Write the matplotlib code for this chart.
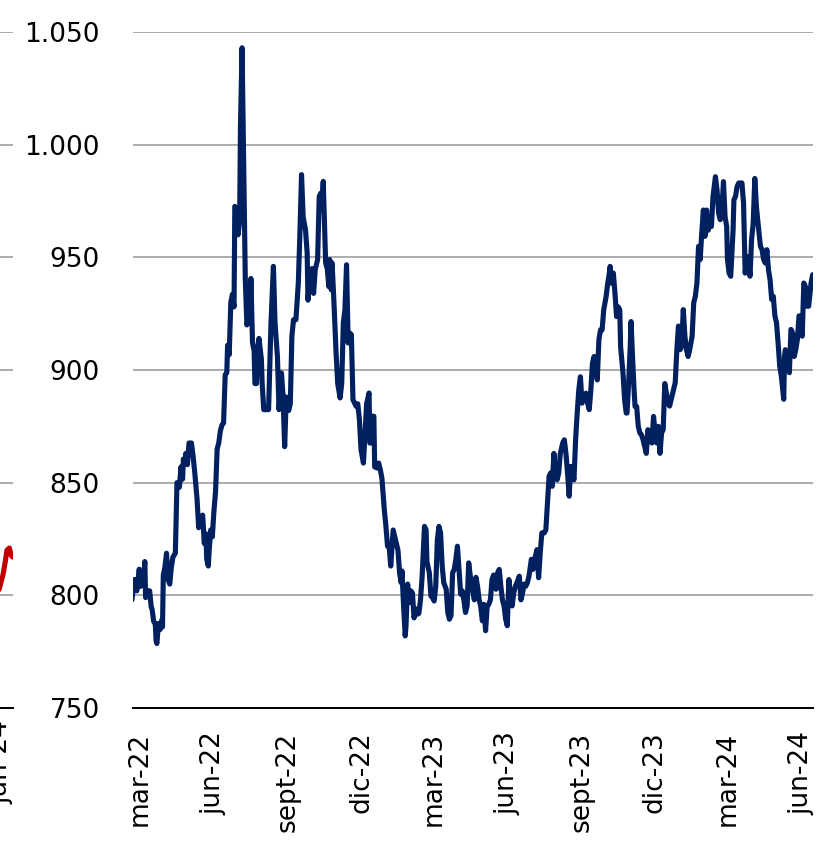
import matplotlib
matplotlib.use("Agg")
import matplotlib.pyplot as plt
import matplotlib.dates as mdates
import pandas as pd
from matplotlib.ticker import FuncFormatter, FixedLocator

plt.rcParams['font.family'] = ['DejaVu Sans']

# ---------------- data ----------------
base_date = pd.Timestamp("2022-03-01")
blue_days = [
    -10, -7, -4, -1, 1, 4, 6, 7, 10, 12, 14, 15, 17, 19, 20, 21, 23, 25, 27, 28, 29, 31, 33, 35, 37, 39, 41, 44,
    46, 49, 51, 53, 54, 56, 57, 59, 61, 64, 66, 68, 71, 73, 76, 78, 80, 82, 83, 85, 86, 88, 90, 92, 94, 96, 98,
    100, 102, 104, 106, 108, 109, 111, 113, 115, 117, 118, 120, 122, 124, 125, 127, 129, 131, 133, 135, 137, 138,
    140, 142, 143, 145, 146, 148, 151, 152,
    154, 160, 163, 166, 168, 171, 173, 176, 178, 180, 182, 185, 187, 189, 191, 194, 197, 199, 201, 203, 206, 208,
    209, 212, 214, 216, 218, 221, 223, 225, 226, 228, 231, 233, 235, 236, 238, 239, 241, 244, 246, 249, 251, 253,
    255, 257, 259, 261, 263, 265, 269, 271, 273, 275, 278, 280, 282, 285, 286, 287, 289, 291, 292, 295, 297, 299,
    301, 304, 306, 308, 310, 312, 315,
    321, 323, 325, 326, 328, 330, 331, 333, 335, 337, 339, 341, 343, 345, 347, 349, 351, 354, 356, 357, 360, 362,
    364, 366, 368, 370, 372, 374, 376, 378, 381, 383, 385, 387, 389, 391, 393, 395, 397, 399, 401, 403, 405, 407,
    409, 411, 413, 416, 418, 420, 422, 424, 426, 428, 430, 432, 434, 436, 438, 440, 443, 445, 447, 449, 451, 453,
    455, 457, 459, 461, 463, 465, 467, 469, 472, 474, 476, 478, 480, 482, 484,
    487, 489, 491, 494, 496, 498, 500, 503, 505, 507, 509, 511, 513, 515, 517, 519, 521, 523, 526, 528, 530, 532,
    534, 536, 538, 540, 542, 544, 546, 548, 550, 552, 555, 557, 559, 561, 563, 565, 567, 569, 571, 573, 575, 577,
    580, 582, 584, 585, 587, 589, 591, 593, 595, 597, 598, 601, 603, 605, 606, 608, 610, 611, 613, 615, 616, 618,
    620, 622, 624, 626, 628, 630, 632, 635, 637, 639, 641, 643, 645, 647, 649, 651, 653,
    657, 659, 662, 666, 668, 670, 672, 674, 676, 678, 680, 682, 684, 687, 689, 691, 693, 695, 697, 699, 701, 703,
    705, 707, 709, 711, 713, 716, 718, 720, 722, 724, 726, 728, 730, 731, 733, 735, 738, 739, 741, 743, 745, 749,
    751, 753, 755, 757, 759, 761, 763, 765, 767, 769, 772, 774, 776, 778, 780, 782, 784, 786, 788, 790, 792, 794,
    796, 798, 801, 802, 803, 805, 808, 810, 812, 814, 816, 818, 820, 822, 824, 826, 828, 830, 832, 835, 837,
]
blue_vals = [
    798, 807, 802, 811.6, 804, 805, 815, 799, 802, 802, 794.7, 794, 788.4, 787.5, 780, 778.6, 787.5, 784.8, 789,
    786, 809, 812.5, 818.7, 807, 805, 812.5, 817, 818.7,
    850, 848, 857, 851.6, 860.5, 858.8, 863, 858, 867.6, 867.6, 862, 855, 842.7, 830, 834.5, 835.6, 823, 827.3,
    816, 813, 819.6, 829, 826, 837.4, 846, 865, 867.6,
    873, 875.6, 876.5, 897.9, 898.8, 911, 906.8, 930, 933.6, 928, 972.6, 971.7, 960, 966, 1008, 1043, 990, 940.6,
    920, 923, 926, 940.6,
    912, 908.5, 894, 894, 908.5, 914, 905, 894,
    882.4, 882.4, 921, 946, 921, 906, 882.4, 898.7, 888.3, 866, 888, 882, 885, 915, 922.3, 922.3, 938.6, 960.8,
    986.7, 968, 962, 952,
    931, 944.5, 945, 934, 944.5, 949, 977, 978.5, 971, 983.7, 947.5, 945, 937, 949, 935.6, 947.5, 932.7, 907.5,
    894, 887.6, 894, 921,
    926.8, 946.7, 912, 916.4, 915.7, 886.8, 883.9, 885, 878, 864.7, 858.7, 872, 885, 889.8, 867.6, 867.6, 879.5,
    879.5, 857, 856.5, 858.7, 855.8,
    852, 838, 830.6, 821.8, 821.8, 813, 829,
    820, 810, 805.6, 810.8, 795, 782, 786.5, 805, 796.8, 802, 801, 790, 794, 791.6, 792, 798, 808, 830.6, 829, 815,
    810, 799.7,
    799, 797.5, 804, 824.7, 830.6, 827.7, 813, 805.6, 802.7, 792.4, 789.4, 791, 810, 811.5, 816, 821.8, 811.5,
    800.5, 802, 798, 792.4, 795.3,
    814.4, 808.5, 804, 798, 808, 804, 798, 795, 788.7, 796, 784.3, 795, 796, 798, 807, 809, 802.7, 810, 811.5,
    804, 798, 795.3,
    789.4, 786.5, 807, 799.7, 795.3, 801, 804, 805.6, 808.5, 798, 801, 805, 804, 805.6, 808.5,
    816, 811.5, 816, 820.3, 807.8, 818.8, 827.7, 827.7, 829, 841, 852.8, 854.3, 848.4, 863, 854.3, 851.3, 854.3,
    863, 867.6, 869, 863, 854.3,
    844, 857.2, 854.3, 851.3, 869, 880.9, 891.2, 897, 885.3, 886.8, 889.7, 885.3, 882.4, 891.2, 903, 906, 901.6,
    895.6, 913.4, 917.8, 917.8, 926.7,
    932.6, 938.5, 943, 946, 938.5, 943, 934, 923.7, 928, 926.7, 910.4, 898.6, 886.8, 880.9, 880.9, 894, 910.4,
    921.5, 904.5, 889.7, 883.8, 883.8,
    875, 872, 871.3, 869, 866, 863, 873.5, 869, 867.6, 879.4, 872, 867.6, 875, 863, 872, 873.5, 894,
    885.5, 884, 888.5, 894.4, 909, 919.5, 909, 910.6, 926.8, 915, 909, 906, 909, 915, 929.8, 932.7, 938.6, 954.9,
    949, 960.8, 971, 959.3,
    971, 962, 965, 963.7, 977, 985.8, 980, 969.6, 966.7, 971, 983.6, 968, 963.7, 949, 943, 941.6, 962.3, 975.5,
    977, 981.4, 983, 983,
    974, 943, 947.5, 950.4, 941.6, 958, 965, 985, 972.6, 965.2, 954.9, 953.4, 949, 947.5, 953.4, 944.5, 940, 931.3,
    932.7, 924, 921, 912,
    901.8, 897.3, 887, 906, 909, 906, 898.8, 918, 916.5, 906, 909, 913.6, 924, 924, 915, 938.6, 937, 928.3, 928.3,
    938.6, 942.3,
]

red_base_date = pd.Timestamp("2024-06-01")
red_days = [-5, -3, 0, 3, 6, 8, 11, 13, 15]
red_vals = [798, 801, 805, 809, 815, 820, 821, 818, 817]

tick_dates = ["2022-03-01", "2022-06-01", "2022-09-01", "2022-12-01", "2023-03-01",
              "2023-06-01", "2023-09-01", "2023-12-01", "2024-03-01", "2024-06-01"]
tick_labels = ["mar-22", "jun-22", "sept-22", "dic-22", "mar-23",
               "jun-23", "sept-23", "dic-23", "mar-24", "jun-24"]
left_tick_dates = ["2024-06-01"]
left_tick_labels = ["jun-24"]
y_ticks = [750, 800, 850, 900, 950, 1000, 1050]

# ---------------- figure ----------------
W, H = 825, 841
fig = plt.figure(figsize=(W / 100, H / 100), dpi=100)

DAYS_PER_PX = 1.2443
ax_l_px, ax_r_px, ax_b_px, ax_t_px = 133, 813, 708, 32
pos = [ax_l_px / W, (H - ax_b_px) / H, (ax_r_px - ax_l_px) / W, (ax_b_px - ax_t_px) / H]

BLUE = "#002060"
RED = "#C00000"
GRID = "#a6a6a6"
FS = 19
LW = 3.7


def style(ax):
    for s in ["top", "right", "left"]:
        ax.spines[s].set_visible(False)
    ax.spines["bottom"].set_color("black")
    ax.spines["bottom"].set_linewidth(1.4)
    ax.set_ylim(750, 1050)
    ax.yaxis.set_major_locator(FixedLocator(y_ticks))
    ax.yaxis.set_major_formatter(FuncFormatter(lambda v, p: f"{v:,.0f}".replace(",", ".")))
    ax.grid(axis="y", color=GRID, linewidth=1.3)
    ax.set_axisbelow(True)
    ax.tick_params(axis="y", length=0, pad=24, labelsize=FS)


# main (right) panel
ax = fig.add_axes(pos)
style(ax)
bx = [mdates.date2num(base_date + pd.Timedelta(days=d)) for d in blue_days]
ax.plot(bx, blue_vals, color=BLUE, linewidth=LW, solid_joinstyle="round", solid_capstyle="round", zorder=3)
x0 = mdates.date2num(base_date)
ax.set_xlim(x0 + (ax_l_px - 140) * DAYS_PER_PX, x0 + (ax_r_px - 140) * DAYS_PER_PX)
ax.set_xticks([mdates.date2num(pd.Timestamp(t)) for t in tick_dates])
ax.set_xticklabels(tick_labels, rotation=90, ha="center", va="top", fontsize=FS)
ax.tick_params(axis="x", length=0, pad=17)

# partially visible left panel
lpos = [(13 - 680) / W, pos[1], 680 / W, pos[3]]
axl = fig.add_axes(lpos)
style(axl)
axl.tick_params(axis="y", labelleft=False)
rx = [mdates.date2num(red_base_date + pd.Timedelta(days=d)) for d in red_days]
axl.plot(rx, red_vals, color=RED, linewidth=LW, solid_joinstyle="round", solid_capstyle="round", zorder=3)
r0 = mdates.date2num(red_base_date)
axl.set_xlim(r0 + (13 - 680 - 0.5) * DAYS_PER_PX, r0 + (13 - 0.5) * DAYS_PER_PX)
axl.set_xticks([mdates.date2num(pd.Timestamp(t)) for t in left_tick_dates])
axl.set_xticklabels(left_tick_labels, rotation=90, ha="center", va="top", fontsize=FS)
axl.tick_params(axis="x", length=0, pad=9)

fig.savefig("out.png", dpi=100)
